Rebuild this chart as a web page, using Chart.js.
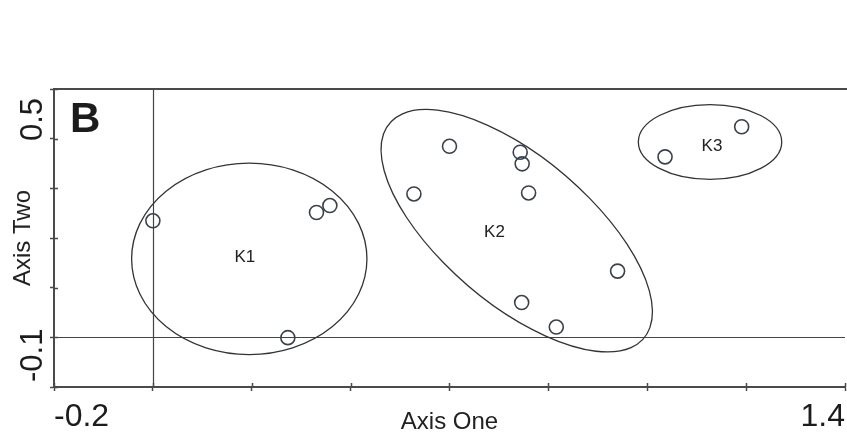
<!DOCTYPE html>
<html>
<head>
<meta charset="utf-8">
<script src="https://cdn.jsdelivr.net/npm/chart.js@4.4.0/dist/chart.umd.min.js"></script>
<style>
  html, body { margin: 0; padding: 0; background: #fff; }
</style>
</head>
<body>
<canvas id="ordination" width="847" height="438"></canvas>
<script>
// site scores on the first two ordination axes, one list per cluster
const clusterNames = ['K1', 'K2', 'K3'];
const k1X = [0.000, 0.331, 0.358, 0.273];
const k1Y = [0.252, 0.277, 0.298, -0.101];
const k2X = [0.600, 0.743, 0.747, 0.528, 0.760, 0.940, 0.746, 0.816];
const k2Y = [0.477, 0.459, 0.424, 0.333, 0.336, 0.100, 0.005, -0.069];
const k3X = [1.036, 1.191];
const k3Y = [0.445, 0.536];

// cluster envelopes: centre, semi-axes (axis units) and tilt in degrees
const envCx = [0.195, 0.736, 1.127];
const envCy = [0.137, 0.222, 0.490];
const envRx = [0.238, 0.422, 0.145];
const envRy = [0.289, 0.177, 0.113];
const envTilt = [0, -56.8, 0];

// cluster name anchors
const nameX = [0.186, 0.691, 1.131];
const nameY = [0.143, 0.216, 0.477];

const xRange = [-0.2, 1.4];
const yRange = [-0.25, 0.65];
const xTickLabels = ['-0.2', '1.4'];
const yTickLabels = ['-0.1', '0.5'];
const xRef = 0;
const yRef = -0.1;

const FONT = '"Liberation Sans", Arial, Helvetica, sans-serif';
const LINE = '#4a4a4a';
const INK = '#1c1c1c';

function toPoints(xs, ys) {
  return xs.map((x, i) => ({ x: x, y: ys[i] }));
}

const dataSets = [[k1X, k1Y], [k2X, k2Y], [k3X, k3Y]].map((d, i) => ({
  label: clusterNames[i],
  data: toPoints(d[0], d[1]),
  pointStyle: 'circle',
  pointRadius: 7,
  pointHoverRadius: 7,
  pointBorderWidth: 1.6,
  pointBorderColor: '#39414a',
  pointBackgroundColor: 'rgba(0,0,0,0)',
  showLine: false
}));

// reference lines, envelopes and cluster names under the points
const overlay = {
  id: 'overlay',
  beforeDatasetsDraw(chart) {
    const ctx = chart.ctx;
    const xs = chart.scales.x, ys = chart.scales.y;
    const area = chart.chartArea;
    ctx.save();
    ctx.strokeStyle = '#444';
    ctx.lineWidth = 1.2;
    ctx.beginPath();
    const rx = Math.round(xs.getPixelForValue(xRef)) + 0.5;
    ctx.moveTo(rx, area.top);
    ctx.lineTo(rx, area.bottom);
    const ry = Math.round(ys.getPixelForValue(yRef)) + 0.5;
    ctx.moveTo(area.left, ry);
    ctx.lineTo(area.right, ry);
    ctx.stroke();

    const kx = xs.getPixelForValue(1) - xs.getPixelForValue(0);
    const ky = ys.getPixelForValue(0) - ys.getPixelForValue(1);
    ctx.strokeStyle = '#333';
    ctx.lineWidth = 1.3;
    for (let i = 0; i < envCx.length; i++) {
      ctx.save();
      ctx.translate(xs.getPixelForValue(envCx[i]), ys.getPixelForValue(envCy[i]));
      ctx.scale(kx, -ky);
      ctx.rotate(envTilt[i] * Math.PI / 180);
      ctx.beginPath();
      ctx.ellipse(0, 0, envRx[i], envRy[i], 0, 0, Math.PI * 2);
      ctx.restore();
      ctx.stroke();
    }

    ctx.fillStyle = '#222';
    ctx.font = '17px ' + FONT;
    ctx.textAlign = 'center';
    ctx.textBaseline = 'middle';
    clusterNames.forEach((n, i) => {
      ctx.fillText(n, xs.getPixelForValue(nameX[i]), ys.getPixelForValue(nameY[i]));
    });
    ctx.restore();
  },
  afterDraw(chart) {
    const ctx = chart.ctx;
    const xs = chart.scales.x, ys = chart.scales.y;
    const area = chart.chartArea;
    ctx.save();
    // top edge of the frame
    ctx.strokeStyle = LINE;
    ctx.lineWidth = 2;
    ctx.beginPath();
    ctx.moveTo(area.left, area.top);
    ctx.lineTo(area.right + 2, area.top);
    ctx.stroke();

    // inner half of the tick marks
    ctx.lineWidth = 1.5;
    ctx.beginPath();
    xs.ticks.forEach((t, i) => {
      const p = Math.round(xs.getPixelForTick(i)) + 0.5;
      ctx.moveTo(p, area.bottom);
      ctx.lineTo(p, area.bottom - 4);
    });
    ys.ticks.forEach((t, i) => {
      const p = Math.round(ys.getPixelForTick(i)) + 0.5;
      ctx.moveTo(area.left, p);
      ctx.lineTo(area.left + 4, p);
    });
    ctx.stroke();

    // y labels run upward: lowest from the bottom edge, highest up to the top edge
    ctx.fillStyle = INK;
    ctx.font = '31px ' + FONT;
    ctx.textBaseline = 'alphabetic';
    ctx.save();
    ctx.translate(area.left - 12.5, area.bottom - 5);
    ctx.rotate(-Math.PI / 2);
    ctx.textAlign = 'left';
    ctx.fillText(yTickLabels[0], 0, 0);
    ctx.restore();
    ctx.save();
    ctx.translate(area.left - 12.5, area.top + 9);
    ctx.rotate(-Math.PI / 2);
    ctx.textAlign = 'right';
    ctx.fillText(yTickLabels[1], 0, 0);
    ctx.restore();

    // panel letter
    ctx.font = 'bold 42px ' + FONT;
    ctx.textAlign = 'left';
    ctx.fillText('B', area.left + 16, area.top + 43);
    ctx.restore();
  }
};

new Chart(document.getElementById('ordination'), {
  type: 'scatter',
  data: { datasets: dataSets },
  options: {
    responsive: false,
    animation: false,
    layout: { autoPadding: false, padding: { top: 89, right: 2, left: 0, bottom: 0 } },
    plugins: { legend: { display: false }, tooltip: { enabled: false } },
    scales: {
      x: {
        type: 'linear',
        min: xRange[0],
        max: xRange[1],
        ticks: {
          stepSize: 0.2,
          align: 'inner',
          autoSkip: false,
          maxRotation: 0,
          padding: 10,
          color: INK,
          font: { family: FONT, size: 32, lineHeight: 1 },
          callback: (v) => {
            const hit = xTickLabels.find(s => Math.abs(parseFloat(s) - v) < 1e-6);
            return hit || '';
          }
        },
        grid: { drawOnChartArea: false, drawTicks: true, tickLength: 4, tickColor: LINE, tickWidth: 1.5 },
        border: { display: true, color: LINE, width: 2 },
        title: {
          display: true,
          text: 'Axis One',
          color: '#222',
          font: { family: FONT, size: 24, lineHeight: 1 },
          padding: { top: 0, bottom: 4 }
        },
        afterFit: (s) => {
          s.height = 51;
          s.paddingLeft = 0;
          s.paddingRight = 0;
        }
      },
      y: {
        type: 'linear',
        min: yRange[0],
        max: yRange[1],
        ticks: { stepSize: 0.15, autoSkip: false, callback: () => '' },
        grid: { drawOnChartArea: false, drawTicks: true, tickLength: 4, tickColor: LINE, tickWidth: 1.5 },
        border: { display: true, color: LINE, width: 2 },
        title: {
          display: true,
          text: 'Axis Two',
          color: '#222',
          font: { family: FONT, size: 24, lineHeight: 1 },
          padding: { top: 11, bottom: 0 }
        },
        afterFit: (s) => {
          s.width = 54;
          s.paddingTop = 0;
          s.paddingBottom = 0;
        }
      }
    }
  },
  plugins: [overlay]
});
</script>
</body>
</html>
